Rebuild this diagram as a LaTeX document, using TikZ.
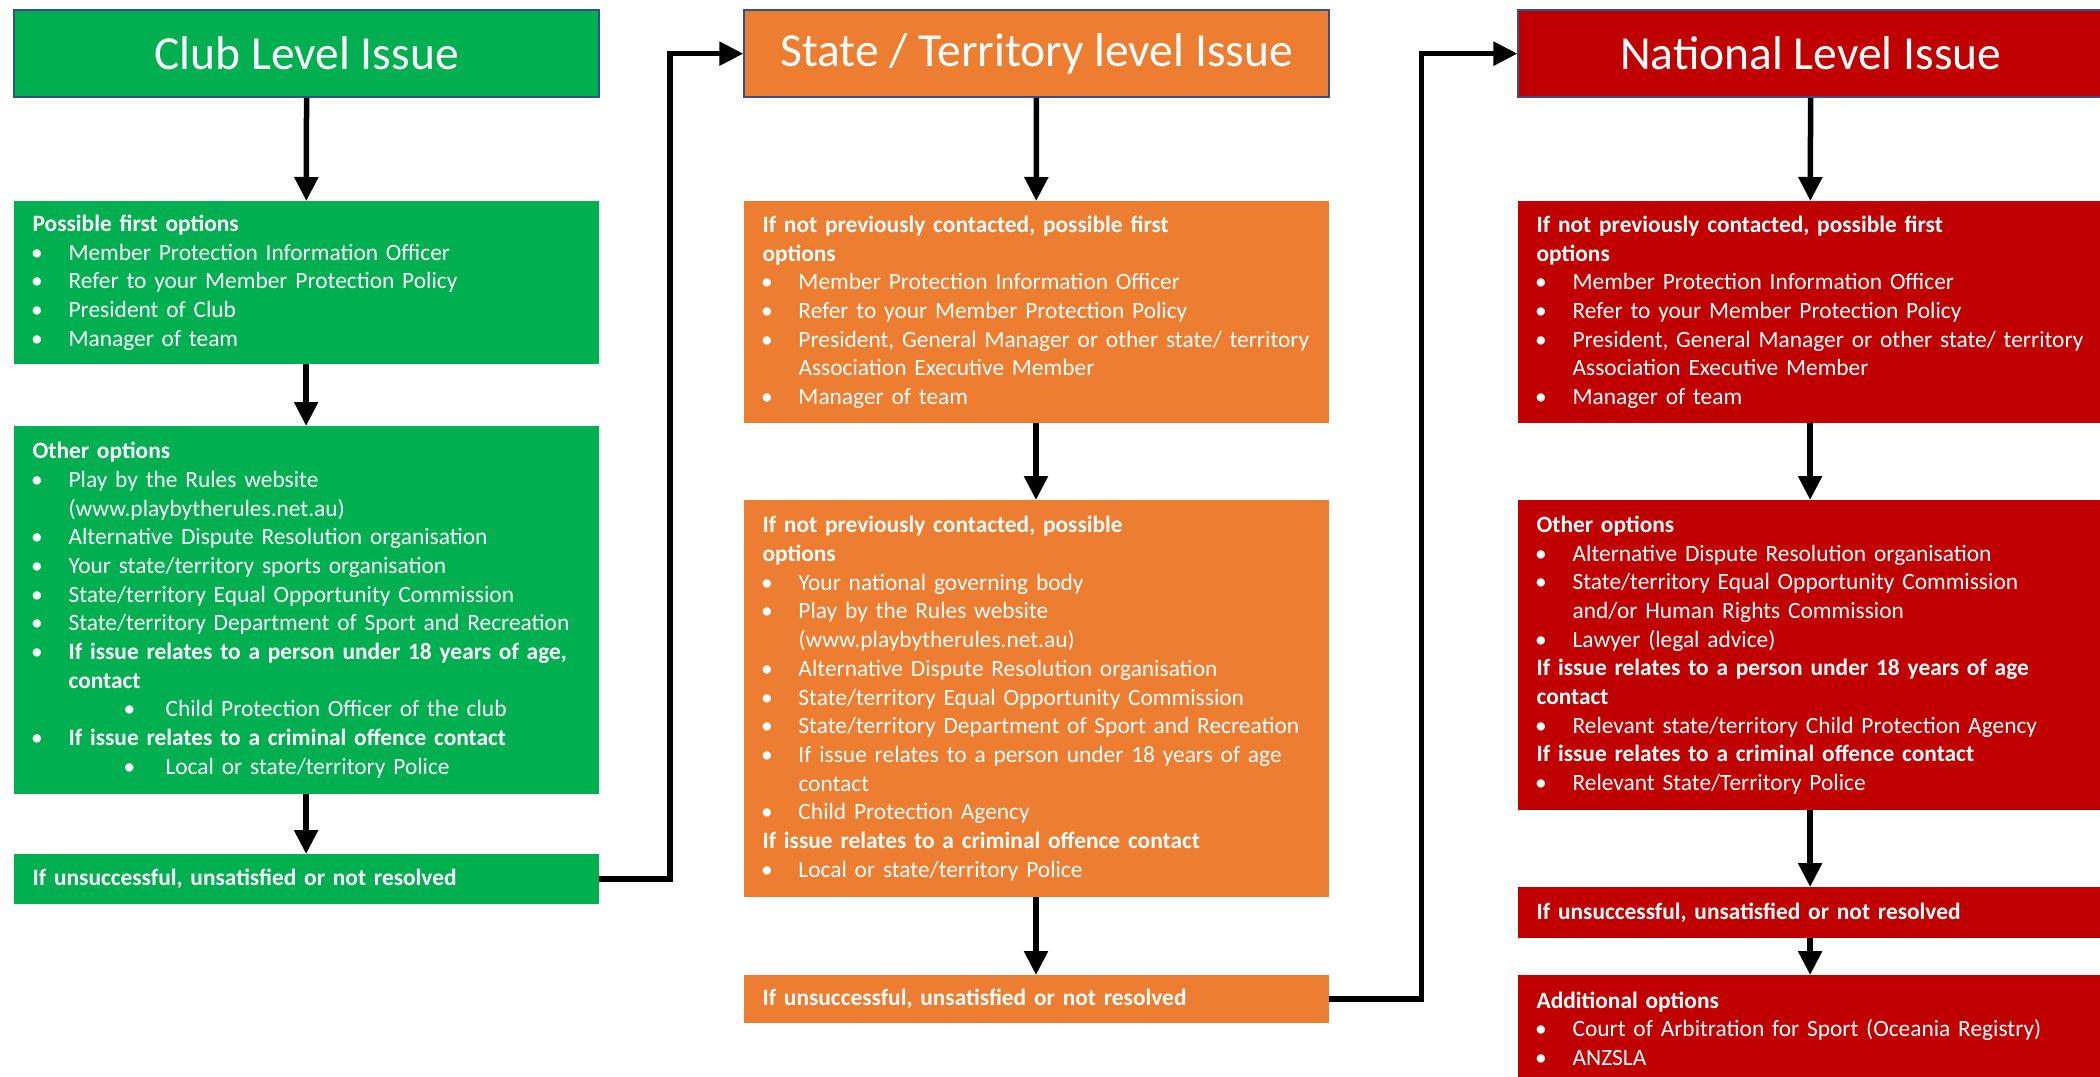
\documentclass[tikz,border=0pt]{standalone}
\usepackage{fontspec}
\setmainfont{Carlito}
\usetikzlibrary{arrows.meta}
\definecolor{cgreen}{HTML}{00B050}
\definecolor{corange}{HTML}{ED7D31}
\definecolor{cred}{HTML}{C00000}
\definecolor{cborder}{HTML}{2F528F}
\newcommand{\itm}[1]{\makebox[36pt][l]{\hspace{-1.5pt}•}#1}
\newcommand{\cont}[1]{\hspace*{36pt}#1}
\newcommand{\subitm}[1]{\hspace*{91pt}\makebox[42pt][l]{•}#1}
\tikzset{
  hdr/.style={draw=cborder, line width=1.5pt, minimum width=585pt, minimum height=87pt,
    inner sep=0pt, anchor=north west, text=white, font=\fontsize{47.5}{54}\selectfont},
  blk/.style={minimum width=585pt, inner xsep=19pt, inner ysep=0pt, text width=547pt,
    align=left, anchor=north west, text=white, font=\fontsize{23.4}{28.7}\selectfont},
  arr/.style={line width=5.5pt, -{Triangle[length=24pt,width=23pt]}, line join=miter},
}
\begin{document}
\begin{tikzpicture}[x=1pt,y=-1pt]
\useasboundingbox (0,0) rectangle (2100,1076);
\clip (0,0) rectangle (2100,1076);
% ---------- column 1 ----------
\node[hdr, fill=cgreen] (h1) at (13.4,9.4) {Club Level Issue};
\node[blk, fill=cgreen, minimum height=163pt] (a1) at (13.4,201) {%
\textbf{Possible first options}\\
\itm{Member Protection Information Officer}\\
\itm{Refer to your Member Protection Policy}\\
\itm{President of Club}\\
\itm{Manager of team}};
\node[blk, fill=cgreen, minimum height=368pt] (b1) at (13.4,426) {%
\textbf{Other options}\\
\itm{Play by the Rules website}\\
\cont{(www.playbytherules.net.au)}\\
\itm{Alternative Dispute Resolution organisation}\\
\itm{Your state/territory sports organisation}\\
\itm{State/territory Equal Opportunity Commission}\\
\itm{State/territory Department of Sport and Recreation}\\
\itm{\textbf{If issue relates to a person under 18 years of age,}}\\
\cont{\textbf{contact}}\\
\subitm{Child Protection Officer of the club}\\
\itm{\textbf{If issue relates to a criminal offence contact}}\\
\subitm{Local or state/territory Police}};
\node[blk, fill=cgreen, minimum height=50pt] (c1) at (13.4,854) {%
\textbf{If unsuccessful, unsatisfied or not resolved}};
% ---------- column 2 ----------
\node[hdr, fill=corange] (h2) at (743.3,9.4) {State / Territory level Issue};
\node[blk, fill=corange, minimum height=222pt] (a2) at (743.3,201) {%
\textbf{If not previously contacted, possible first}\\
\textbf{options}\\
\itm{Member Protection Information Officer}\\
\itm{Refer to your Member Protection Policy}\\
\itm{President, General Manager or other state/ territory}\\
\cont{Association Executive Member}\\
\itm{Manager of team}};
\node[blk, fill=corange, minimum height=397pt] (b2) at (743.3,500) {%
\textbf{If not previously contacted, possible}\\
\textbf{options}\\
\itm{Your national governing body}\\
\itm{Play by the Rules website}\\
\cont{(www.playbytherules.net.au)}\\
\itm{Alternative Dispute Resolution organisation}\\
\itm{State/territory Equal Opportunity Commission}\\
\itm{State/territory Department of Sport and Recreation}\\
\itm{If issue relates to a person under 18 years of age}\\
\cont{contact}\\
\itm{Child Protection Agency}\\
\textbf{If issue relates to a criminal offence contact}\\
\itm{Local or state/territory Police}};
\node[blk, fill=corange, minimum height=48pt] (c2) at (743.3,975) {%
\textbf{If unsuccessful, unsatisfied or not resolved}};
% ---------- column 3 ----------
\node[hdr, fill=cred] (h3) at (1517.4,9.4) {National Level Issue};
\node[blk, fill=cred, minimum height=222pt] (a3) at (1517.4,201) {%
\textbf{If not previously contacted, possible first}\\
\textbf{options}\\
\itm{Member Protection Information Officer}\\
\itm{Refer to your Member Protection Policy}\\
\itm{President, General Manager or other state/ territory}\\
\cont{Association Executive Member}\\
\itm{Manager of team}};
\node[blk, fill=cred, minimum height=310pt] (b3) at (1517.4,500) {%
\textbf{Other options}\\
\itm{Alternative Dispute Resolution organisation}\\
\itm{State/territory Equal Opportunity Commission}\\
\cont{and/or Human Rights Commission}\\
\itm{Lawyer (legal advice)}\\
\textbf{If issue relates to a person under 18 years of age}\\
\textbf{contact}\\
\itm{Relevant state/territory Child Protection Agency}\\
\textbf{If issue relates to a criminal offence contact}\\
\itm{Relevant State/Territory Police}};
\node[blk, fill=cred, minimum height=51pt] (c3) at (1517.4,887) {%
\textbf{If unsuccessful, unsatisfied or not resolved}};
\node[blk, fill=cred, minimum height=107pt] (d3) at (1517.4,975) {%
\textbf{Additional options}\\
\itm{Court of Arbitration for Sport (Oceania Registry)}\\
\itm{ANZSLA}};
% ---------- connectors ----------
\draw[arr] (h1) -- (a1);
\draw[arr] (a1) -- (b1);
\draw[arr] (b1) -- (c1);
\draw[arr] (h2) -- (a2);
\draw[arr] (a2) -- (b2);
\draw[arr] (b2) -- (c2);
\draw[arr] (h3) -- (a3);
\draw[arr] (a3) -- (b3);
\draw[arr] (b3) -- (c3);
\draw[arr] (c3) -- (d3);
\draw[arr] (c1.east) -- ++(71,0) |- (h2.west);
\draw[arr] (c2.east) -- ++(93,0) |- (h3.west);
\end{tikzpicture}
\end{document}
